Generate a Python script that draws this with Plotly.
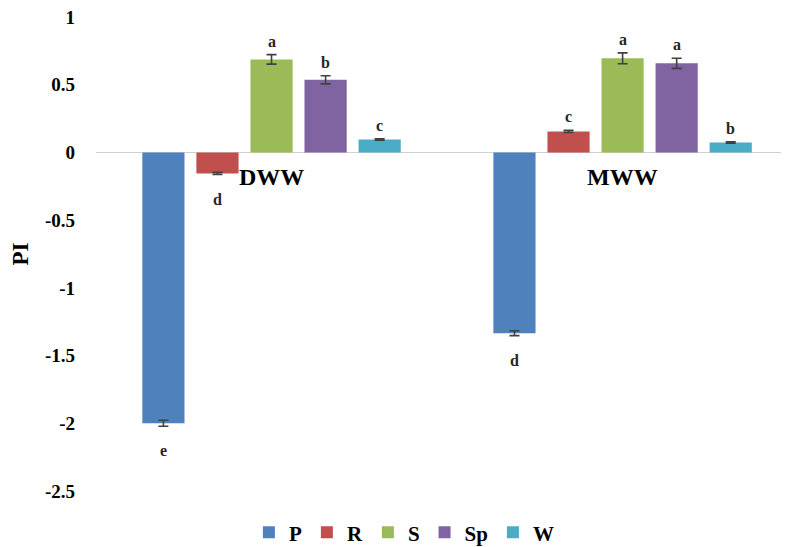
import plotly.graph_objects as go

categories = ["DWW", "MWW"]
series_names = ["P", "R", "S", "Sp", "W"]
colors = ["#4F81BD", "#C0504D", "#9BBB59", "#8064A2", "#4BACC6"]
values = {
    "P": [-2.00, -1.335],
    "R": [-0.155, 0.155],
    "S": [0.687, 0.695],
    "Sp": [0.536, 0.658],
    "W": [0.096, 0.074],
}
errors = {
    "P": [0.022, 0.018],
    "R": [0.008, 0.008],
    "S": [0.035, 0.040],
    "Sp": [0.030, 0.037],
    "W": [0.005, 0.005],
}
letters = {
    "P": ["e", "d"],
    "R": ["d", "c"],
    "S": ["a", "a"],
    "Sp": ["b", "a"],
    "W": ["c", "b"],
}
y_ticks = [1, 0.5, 0, -0.5, -1, -1.5, -2, -2.5]
y_tick_labels = ["1", "0.5", "0", "-0.5", "-1", "-1.5", "-2", "-2.5"]

FONT = "Liberation Serif"
bargap = 0.23
bargroupgap = 0.22
n = len(series_names)
slot = (1 - bargap) / n

fig = go.Figure()
annotations = []
for i, (name, col) in enumerate(zip(series_names, colors)):
    fig.add_trace(go.Bar(
        name=name, x=categories, y=values[name],
        marker=dict(color=col, line=dict(width=0)),
        error_y=dict(type="data", array=errors[name], color="#404040", thickness=1.6, width=5),
    ))
    off = (i - (n - 1) / 2) * slot
    for ci, cat in enumerate(categories):
        v = values[name][ci]
        e = errors[name][ci]
        if v >= 0:
            y, ys, ya = v + e, 3, "bottom"
        else:
            y, ys, ya = v - e, -14, "top"
        annotations.append(dict(
            x=ci + off, y=y, xref="x", yref="y", text=letters[name][ci],
            showarrow=False, yshift=ys, yanchor=ya,
            font=dict(family=FONT, size=16, color="#262626", weight="bold"),
        ))

for ci, cat in enumerate(categories):
    annotations.append(dict(
        x=ci, y=0, xref="x", yref="y", text=cat, showarrow=False,
        yanchor="top", yshift=-10, font=dict(family=FONT, size=24, color="black", weight="bold"),
    ))

fig.update_layout(
    width=781, height=539,
    margin=dict(l=88, r=0, t=9, b=56, autoexpand=False),
    paper_bgcolor="white", plot_bgcolor="white",
    barmode="group", bargap=bargap, bargroupgap=bargroupgap,
    font=dict(family=FONT, color="black"),
    showlegend=True,
    legend=dict(orientation="h", x=0.445, xanchor="center", y=-0.088, yanchor="middle",
                font=dict(family=FONT, size=21, color="black", weight="bold"), itemwidth=30,
                traceorder="normal"),
    annotations=annotations,
    yaxis=dict(
        range=[-2.5, 1], tickvals=y_ticks, ticktext=y_tick_labels,
        showgrid=False, zeroline=True, zerolinecolor="#d0d0d0", zerolinewidth=1.2,
        showline=False, ticks="", ticklabelstandoff=20, ticklabeloverflow="allow",
        tickfont=dict(family=FONT, size=19, color="black", weight="bold"),
        title=dict(text="PI", font=dict(family=FONT, size=23, color="black", weight="bold"), standoff=28),
    ),
    xaxis=dict(
        range=[-0.5, 1.474], showticklabels=False, showgrid=False, zeroline=False,
        showline=False, ticks="",
    ),
)

fig.write_html("out.html")
